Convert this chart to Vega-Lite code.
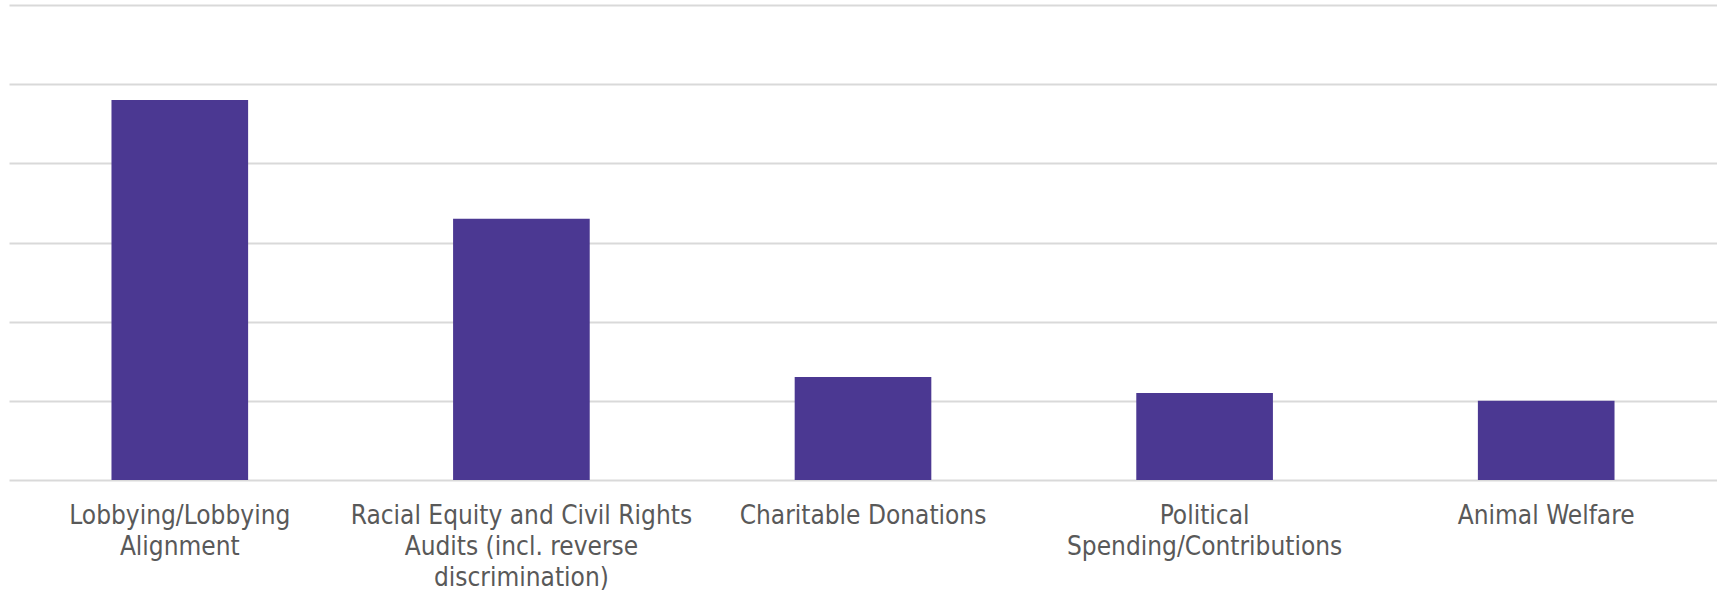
{
  "$schema": "https://vega.github.io/schema/vega-lite/v6.json",
  "autosize": "none",
  "width": 1708,
  "height": 475,
  "padding": {"left": 9, "top": 5, "right": 0, "bottom": 114},
  "background": "white",
  "data": {
    "values": [
      {"category": "Lobbying/Lobbying Alignment", "value": 48},
      {"category": "Racial Equity and Civil Rights Audits (incl. reverse discrimination)", "value": 33},
      {"category": "Charitable Donations", "value": 13},
      {"category": "Political Spending/Contributions", "value": 11},
      {"category": "Animal Welfare", "value": 10}
    ]
  },
  "config": {
    "view": {"stroke": null},
    "font": "DejaVu Sans Condensed"
  },
  "mark": {"type": "bar", "color": "#4B3892"},
  "encoding": {
    "x": {
      "field": "category",
      "type": "nominal",
      "sort": null,
      "scale": {"paddingInner": 0.6, "paddingOuter": 0.3},
      "axis": {
        "title": null,
        "domain": false,
        "ticks": false,
        "labelAngle": 0,
        "labelFont": "DejaVu Sans Condensed",
        "labelFontSize": 26,
        "labelColor": "#595959",
        "labelLineHeight": 31,
        "labelPadding": 22,
        "labelLimit": 0,
        "labelExpr": "datum.value == 'Lobbying/Lobbying Alignment' ? ['Lobbying/Lobbying','Alignment'] : datum.value == 'Racial Equity and Civil Rights Audits (incl. reverse discrimination)' ? ['Racial Equity and Civil Rights','Audits (incl. reverse','discrimination)'] : datum.value == 'Political Spending/Contributions' ? ['Political','Spending/Contributions'] : datum.value"
      }
    },
    "y": {
      "field": "value",
      "type": "quantitative",
      "scale": {"domain": [0, 60], "nice": false},
      "axis": {
        "title": null,
        "domain": false,
        "ticks": false,
        "labels": false,
        "values": [0, 10, 20, 30, 40, 50, 60],
        "gridColor": "#d9d9d9",
        "gridWidth": 2
      }
    }
  }
}
